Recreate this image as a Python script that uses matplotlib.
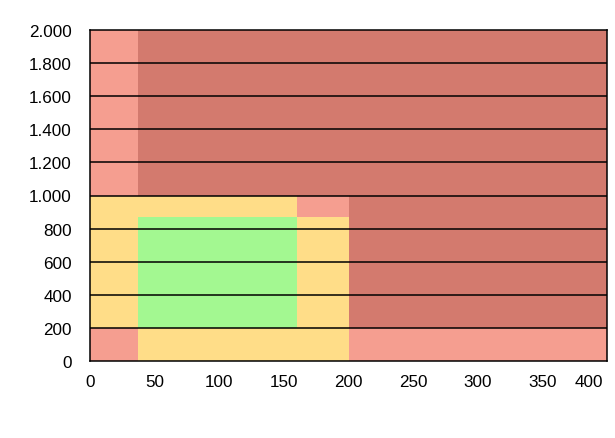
"""Zone chart: coloured bands over a 0-400 x 0-2000 grid."""
import matplotlib

matplotlib.use("Agg")
import matplotlib.pyplot as plt  # noqa: E402
import matplotlib.transforms as mtransforms  # noqa: E402
import numpy as np  # noqa: E402
from matplotlib.colors import ListedColormap  # noqa: E402
from matplotlib.ticker import FuncFormatter  # noqa: E402

# zone edges
x_edges = [0, 37, 160, 200, 400]
y_edges = [0, 200, 870, 1000, 2000]

# zone codes per cell, rows bottom -> top, columns left -> right
# 0 = light red, 1 = yellow, 2 = green, 3 = dark red
zones = [
    [0, 1, 1, 0],
    [1, 2, 1, 3],
    [1, 1, 0, 3],
    [0, 3, 3, 3],
]
zone_colors = ["#F59E90", "#FFDD88", "#A3F891", "#D37A6E"]

x_ticks = [0, 50, 100, 150, 200, 250, 300, 350, 400]
y_ticks = [0, 200, 400, 600, 800, 1000, 1200, 1400, 1600, 1800, 2000]

plt.rcParams["font.family"] = ["Liberation Sans", "DejaVu Sans"]

fig = plt.figure(figsize=(6.15, 4.39), dpi=100)
ax = fig.add_axes([90 / 615, 1 - 362 / 439, 517 / 615, 331 / 439])

cmap = ListedColormap(zone_colors)
ax.pcolormesh(x_edges, y_edges, np.array(zones), cmap=cmap, vmin=-0.5, vmax=3.5,
              shading="flat", zorder=0)

for y in y_ticks[1:-1]:
    ax.axhline(y, color="black", linewidth=1.1, zorder=2)

ax.set_xlim(x_edges[0], x_edges[-1])
ax.set_ylim(y_edges[0], y_edges[-1])
ax.set_xticks(x_ticks)
ax.set_yticks(y_ticks)
ax.yaxis.set_major_formatter(FuncFormatter(lambda v, _: f"{v:,.0f}".replace(",", ".")))
ax.tick_params(axis="both", length=0, labelsize=12.3, colors="black")
ax.tick_params(axis="y", pad=13)
ax.tick_params(axis="x", pad=9.5)

# last x label is pulled in so it stays inside the figure
last = ax.get_xticklabels()[-1]
last.set_horizontalalignment("right")
last.set_transform(last.get_transform()
                   + mtransforms.ScaledTranslation(-4 / 100, 0, fig.dpi_scale_trans))

for spine in ax.spines.values():
    spine.set_color("black")
    spine.set_linewidth(1.1)
    spine.set_zorder(3)

fig.savefig("out.png", dpi=100)
